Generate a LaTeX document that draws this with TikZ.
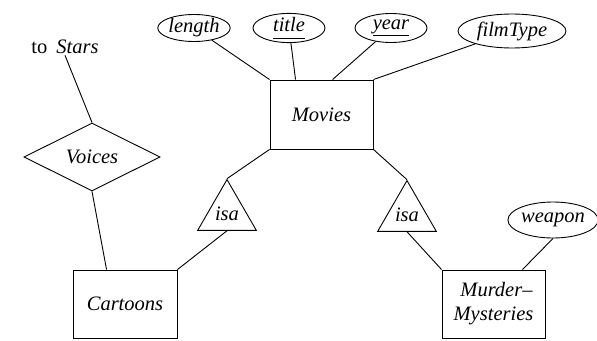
\documentclass[tikz,border=0pt]{standalone}
\usepackage{fontspec}
\setmainfont{Liberation Serif}
\usetikzlibrary{shapes.geometric}
\begin{document}
\begin{tikzpicture}[x=1pt, y=-1pt,
  every node/.style={font=\fontsize{20.5}{26}\selectfont\itshape},
  every path/.style={line width=0.9pt},
  entity/.style={draw, rectangle, inner sep=0pt, align=center},
  attr/.style={draw, ellipse, inner sep=0pt},
  rel/.style={draw, diamond, inner sep=0pt, minimum width=136pt, minimum height=68pt},
  isatri/.style={draw, regular polygon, regular polygon sides=3, minimum size=59pt, inner sep=0pt}]
\useasboundingbox (0,0) rectangle (597,340);

% entity sets
\node[entity, minimum width=103pt, minimum height=69pt] (movies) at (321.5,114.5) {Movies};
\node[entity, minimum width=104pt, minimum height=68pt] (cartoons) at (125,304) {Cartoons};
\node[entity, minimum width=103pt, minimum height=68pt] (murder) at (493.5,304) {\hspace*{6pt}Murder--\\[-2pt]Mysteries};

% attributes (key attributes underlined)
\node[attr, minimum width=72pt, minimum height=27pt] (length) at (194,28) {length};
\node[attr, minimum width=72pt, minimum height=29pt] (title) at (289,28) {\underline{title\vphantom{y}}};
\node[attr, minimum width=72pt, minimum height=29pt] (year) at (391,28) {\underline{year}};
\node[attr, minimum width=108pt, minimum height=34pt] (filmtype) at (512,31) {filmType};
\node[attr, minimum width=86pt, minimum height=36pt] (weapon) at (553,220) {weapon};

% relationship and isa triangles
\node[rel] (voices) at (92,157) {Voices};
\node[isatri] (isaleft) at (227,213.4) {isa};
\node[isatri] (isaright) at (407,214.4) {isa};

% reference to another entity set
\node[inner sep=1pt] (stars) at (65,47) {\upshape to\hspace{9pt}\itshape Stars};

% connectors
\draw (length) -- (movies.north west);
\draw (title) -- ([xshift=26pt]movies.north west);
\draw (year) -- ([xshift=63pt]movies.north west);
\draw (filmtype) -- (movies.north east);
\draw (movies.south west) -- (isaleft.corner 1);
\draw (isaleft.south) -- (cartoons.north east);
\draw (movies.south east) -- (isaright.corner 1);
\draw (isaright.south) -- (murder.north west);
\draw (weapon.south) -- ([xshift=-23pt]murder.north east);
\draw (stars.south) -- (voices.north);
\draw (voices.south) -- ([xshift=34pt]cartoons.north west);
\end{tikzpicture}
\end{document}
